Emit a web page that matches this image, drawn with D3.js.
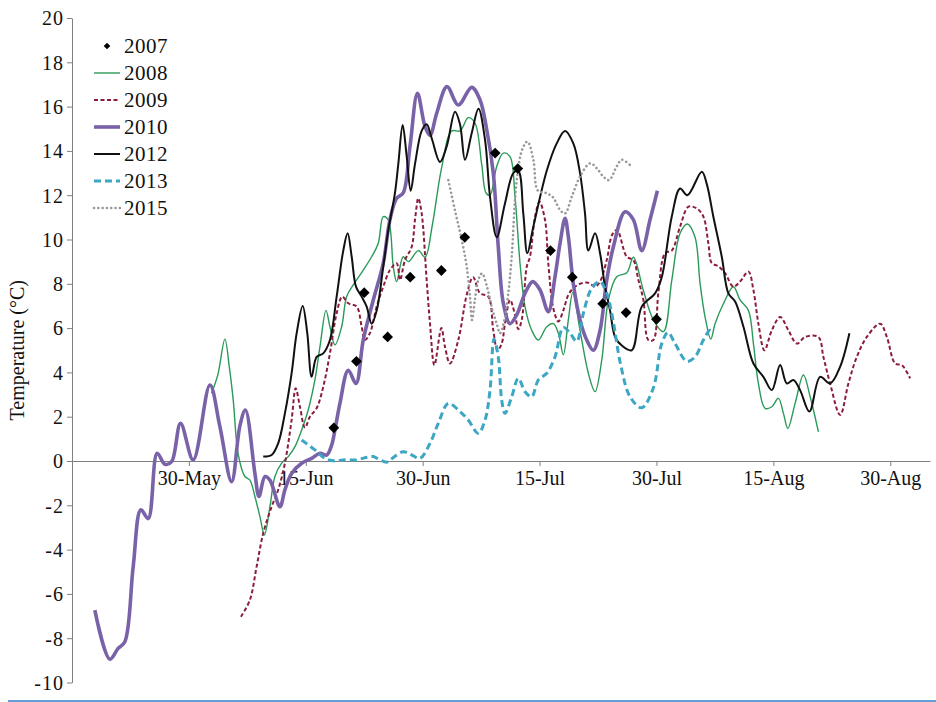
<!DOCTYPE html>
<html>
<head>
<meta charset="utf-8">
<script src="https://cdn.jsdelivr.net/npm/d3@7"></script>
<style>
  html, body { margin: 0; padding: 0; background: #fff; }
  svg text { font-family: "Liberation Serif", "DejaVu Serif", serif; fill: #111; }
</style>
</head>
<body>
<svg id="chart" width="936" height="702"></svg>
<script>
// ---- DATA (x = days relative to the 30-May tick, tick spacing 15 days) ----
const xTickValues = [0, 15, 30, 45, 60, 75, 90];
const xTickLabels = ["30-May", "15-Jun", "30-Jun", "15-Jul", "30-Jul", "15-Aug", "30-Aug"];
const yTickValues = [-10, -8, -6, -4, -2, 0, 2, 4, 6, 8, 10, 12, 14, 16, 18, 20];
const seriesNames = ["2007", "2008", "2009", "2010", "2012", "2013", "2015"];

const s2007 = [[18.6,1.5],[21.5,4.5],[22.5,7.6],[25.5,5.6],[28.4,8.3],[32.4,8.6],[35.4,10.1],
  [39.3,13.9],[42.2,13.2],[46.4,9.5],[49.2,8.3],[53.1,7.1],[56.1,6.7],[60.0,6.4]];

const s2008 = [[2.91,3.06],[3.72,3.9],[4.62,5.5],[5.2,4.2],[5.69,2.75],[6.33,0.3],[7.19,-0.7],[7.83,-0.86],
  [8.47,-1.6],[9.11,-2.5],[9.69,-3.34],[10.4,-2.06],[11.04,-0.7],[11.9,-0.1],[12.75,0.2],[13.61,0.65],
  [14.47,1.4],[15.31,2.3],[16.17,3.66],[16.82,5.16],[17.59,6.8],[18.1,6.06],[18.74,5.24],[19.6,6.06],
  [20.24,7.42],[21.09,7.95],[22.38,8.62],[23.45,9.22],[24.3,9.83],[24.94,11.03],[25.58,10.88],
  [26.23,8.77],[26.66,8.1],[27.5,9.22],[28.15,9.0],[29.44,9.5],[30.3,9.2],[31.26,10.7],[32.41,13.2],
  [33.72,14.9],[34.79,14.9],[35.85,15.5],[36.71,15.26],[37.57,13.4],[38.13,12.1],[38.64,12.0],
  [39.5,13.3],[40.35,13.9],[41.2,13.74],[41.85,11.93],[42.49,8.93],[43.13,6.97],[43.99,5.9],
  [44.84,5.46],[45.92,6.06],[46.77,6.2],[47.41,5.77],[48.05,4.8],[48.69,6.37],[49.26,7.6],[50.19,5.9],
  [51.26,3.96],[52.12,3.13],[52.98,4.56],[53.83,7.27],[54.9,8.32],[56.19,8.5],[57.04,9.2],[58.32,7.7],
  [59.6,6.37],[60.89,5.84],[61.97,8.17],[63.03,10.28],[63.97,10.7],[64.95,10.1],[65.6,8.0],[66.24,6.5],
  [66.97,5.5],[67.52,6.2],[68.59,7.1],[69.87,7.87],[70.73,7.27],[71.8,6.8],[72.44,5.3],[73.08,3.5],
  [73.94,2.38],[74.8,2.45],[75.65,2.83],[76.29,2.15],[76.86,1.47],[77.79,2.6],[78.86,3.88],[79.72,2.9],
  [80.78,1.32]];

const s2009 = [[6.68,-7.03],[7.83,-6.27],[8.69,-4.77],[9.54,-3.26],[10.62,-2.06],[11.46,-1.3],[12.32,-0.1],
  [13.18,1.85],[13.7,3.28],[14.25,2.45],[14.89,1.5],[15.53,2.0],[16.39,2.38],[17.24,3.35],[18.1,4.86],
  [18.96,6.67],[19.68,7.42],[20.45,7.12],[21.53,6.97],[22.17,6.06],[22.59,5.46],[23.23,5.77],[24.1,6.97],
  [24.94,7.87],[25.8,8.62],[26.66,8.93],[27.09,8.17],[27.73,9.07],[28.59,9.67],[29.01,10.88],
  [29.44,11.86],[29.87,11.18],[30.51,8.17],[30.94,6.2],[31.5,4.33],[32.4,6.0],[32.86,5.16],[33.5,4.4],
  [34.57,5.46],[35.65,7.5],[36.46,8.3],[37.36,7.57],[38.42,7.42],[39.06,5.9],[39.6,5.0],[40.14,5.3],
  [40.56,6.2],[41.21,7.27],[41.85,6.6],[42.27,5.95],[42.71,6.37],[43.35,8.77],[43.77,9.22],[44.42,11.03],
  [44.99,11.7],[45.7,10.88],[46.12,8.93],[46.76,6.9],[47.41,6.3],[48.05,6.8],[48.69,7.5],[49.33,7.8],
  [50.19,8.0],[51.22,8.05],[52.12,7.87],[52.76,8.1],[53.62,9.07],[54.3,10.2],[54.94,10.43],[56.19,9.22],
  [57.04,9.07],[57.68,8.17],[58.32,7.27],[58.96,5.46],[59.6,5.46],[60.24,7.57],[61.1,9.38],[61.96,9.5],
  [63.03,10.58],[64.1,11.48],[65.17,11.4],[66.02,11.03],[66.66,9.83],[67.1,8.93],[67.9,8.8],[68.81,8.47],
  [69.87,7.87],[70.73,8.1],[71.8,8.55],[72.44,7.72],[73.08,6.2],[73.85,5.0],[74.8,5.9],[75.87,6.5],
  [76.93,5.9],[78.01,5.3],[79.08,5.6],[80.78,5.6],[81.42,4.7],[82.28,3.5],[83.57,2.08],[84.63,3.5],
  [85.71,4.7],[86.99,5.6],[88.7,6.2],[89.56,5.6],[90.63,4.4],[91.49,4.33],[92.55,3.73]];

const s2010 = [[-12.07,-6.73],[-10.14,-8.95],[-9.08,-8.46],[-8.22,-8.16],[-7.15,-4.77],[-6.16,-2.2],
  [-5.22,-2.6],[-4.07,0.35],[-3.08,-0.15],[-2.22,-0.03],[-1.07,1.7],[0.55,0.05],[2.7,3.43],[3.98,1.55],
  [5.48,-0.93],[6.55,1.6],[7.25,2.3],[8.47,-0.56],[8.99,-1.6],[9.76,-0.7],[10.4,-0.86],[11.68,-2.06],
  [12.32,-1.3],[13.18,-0.56],[14.47,-0.1],[15.75,0.12],[16.82,0.35],[17.68,0.27],[18.32,0.72],
  [18.74,1.4],[19.38,2.6],[20.45,4.1],[21.44,3.5],[22.37,5.46],[23.66,7.27],[24.94,8.93],[25.8,10.9],
  [26.66,11.86],[27.5,12.1],[28.37,14.2],[29.33,16.6],[30.3,15.1],[30.94,14.7],[31.8,15.7],[33.12,16.9],
  [34.57,16.07],[36.29,16.87],[37.36,16.3],[38.2,15.0],[39.06,13.0],[39.7,9.67],[40.35,7.12],[41.2,6.2],
  [42.07,6.6],[43.13,7.57],[44.12,8.1],[45.06,7.72],[46.12,6.74],[46.98,8.32],[47.63,9.83],[48.27,10.96],
  [48.7,10.1],[49.33,8.0],[50.19,6.37],[51.05,5.46],[51.9,5.0],[52.76,5.9],[53.62,8.17],[54.47,9.67],
  [55.97,11.25],[57.03,10.9],[58.11,9.5],[59.18,10.9],[60.12,12.2]];

const s2012 = [[9.54,0.2],[10.62,0.27],[11.46,0.8],[12.32,2.15],[13.18,3.96],[13.83,5.77],[14.6,7.0],
  [15.19,5.77],[15.75,3.8],[16.39,4.7],[17.24,4.86],[18.1,5.46],[18.96,7.42],[19.81,9.5],[20.37,10.28],
  [20.89,9.22],[21.44,7.87],[22.17,7.42],[22.81,6.97],[23.45,6.2],[24.1,6.8],[24.94,8.77],[25.58,10.4],
  [26.44,12.09],[26.87,13.4],[27.43,15.17],[27.95,13.74],[28.46,12.2],[29.01,13.4],[29.87,14.9],
  [30.51,15.2],[31.16,14.57],[32.22,13.5],[33.08,14.2],[34.15,15.77],[34.79,15.2],[35.43,13.6],
  [36.29,14.8],[37.16,15.9],[38.0,14.5],[38.64,11.93],[39.5,10.1],[40.56,11.63],[41.63,13.0],
  [42.27,13.1],[42.91,11.18],[43.43,9.38],[44.2,10.58],[45.92,13.1],[47.2,14.34],[48.27,14.9],
  [49.33,14.34],[50.19,13.0],[50.83,11.18],[51.26,9.5],[52.12,10.28],[52.76,9.38],[53.4,7.87],
  [54.04,6.8],[54.69,5.6],[55.59,5.2],[56.83,5.0],[58.11,6.97],[59.82,7.57],[60.68,8.3],[61.96,11.03],
  [63.03,12.3],[63.97,12.0],[65.82,13.06],[66.46,12.5],[67.3,11.03],[68.38,9.22],[69.23,7.57],
  [70.09,7.2],[71.16,6.06],[72.44,4.4],[73.72,3.8],[74.8,3.2],[75.87,4.33],[76.73,3.5],[77.57,3.66],
  [78.43,3.2],[79.63,2.23],[81.0,3.8],[82.28,3.5],[83.57,4.26],[84.76,5.77]];

const s2013 = [[14.47,0.95],[16.17,0.5],[17.46,0.12],[18.74,0.0],[19.81,0.05],[21.53,0.05],[22.6,0.15],
  [23.66,0.2],[24.52,0.05],[25.38,-0.05],[26.19,0.15],[27.5,0.42],[28.59,0.27],[29.65,0.12],[30.94,0.8],
  [32.0,1.7],[33.29,2.6],[34.79,2.23],[35.85,1.85],[37.14,1.25],[38.0,1.85],[38.64,3.2],[39.15,5.5],
  [39.7,4.7],[40.14,2.75],[40.56,2.15],[41.42,2.9],[42.27,3.73],[43.13,3.13],[43.99,2.9],[44.84,3.66],
  [45.92,3.96],[46.98,4.7],[48.05,6.03],[48.91,5.77],[49.77,5.4],[50.62,6.67],[51.69,7.8],[52.76,8.1],
  [53.62,7.57],[54.35,6.5],[55.43,4.3],[56.61,2.9],[58.11,2.4],[59.6,3.3],[60.68,5.3],[61.49,5.8],
  [62.39,5.3],[63.89,4.5],[64.95,4.7],[66.02,5.46],[66.88,5.9],[67.3,5.77]];

const s2015 = [[33.29,12.68],[34.15,11.3],[35.0,10.0],[35.65,8.77],[36.07,7.42],[36.33,6.37],[36.71,7.3],
  [37.14,8.17],[37.61,8.47],[38.25,7.87],[38.96,6.8],[39.5,6.2],[39.92,5.77],[40.44,6.3],[40.96,7.5],
  [41.42,9.22],[42.07,12.68],[42.81,14.1],[43.45,14.42],[44.2,13.6],[44.8,12.2],[45.92,12.09],
  [46.73,11.9],[47.63,11.33],[48.27,11.18],[49.13,11.93],[50.19,12.84],[51.48,13.44],[52.38,13.2],
  [53.18,12.84],[53.92,12.68],[54.9,13.3],[55.55,13.6],[56.61,13.36]];

// ---- STYLES ----
const styles = {
  "2008": { color: "#2a9a58", width: 1.4, dash: null },
  "2009": { color: "#8c1c3c", width: 2, dash: "4,2.5" },
  "2010": { color: "#7a62a8", width: 3.6, dash: null },
  "2012": { color: "#111111", width: 2, dash: null },
  "2013": { color: "#3ca6c4", width: 3, dash: "7,4" },
  "2015": { color: "#9a9a9a", width: 2.6, dash: "0.1,4.2", cap: "round" }
};
const serif = '"Liberation Serif", "DejaVu Serif", serif';

const svg = d3.select("#chart");
const x = d3.scaleLinear().domain([-15, 95.1]).range([72, 930]);
const y = d3.scaleLinear().domain([-10, 20]).range([682.5, 18]);

// y axis
const yAxis = d3.axisLeft(y).tickValues(yTickValues).tickFormat(d => String(d)).tickSize(5).tickSizeOuter(0);
const gy = svg.append("g").attr("transform", "translate(72,0)").call(yAxis);
gy.attr("font-family", serif);
gy.select(".domain").attr("stroke", "#808080");
gy.selectAll(".tick line").attr("stroke", "#808080");
gy.selectAll(".tick text").attr("font-size", 20).attr("x", -8).attr("dy", "0.34em")
  .attr("letter-spacing", 1).style("font-family", serif);

// x axis at y = 0
const xAxis = d3.axisBottom(x).tickValues(xTickValues)
  .tickFormat((d, i) => xTickLabels[i]).tickSize(5).tickSizeOuter(0);
const gx = svg.append("g").attr("transform", `translate(0,${y(0)})`).call(xAxis);
gx.attr("font-family", serif);
gx.select(".domain").attr("stroke", "#808080");
gx.selectAll(".tick line").attr("stroke", "#808080");
gx.selectAll(".tick text").attr("font-size", 20).attr("y", 10).attr("dy", "0.71em")
  .style("font-family", serif);

// axis title
svg.append("text")
  .attr("transform", `translate(24,${y(5)}) rotate(-90)`)
  .attr("text-anchor", "middle")
  .attr("font-size", 20)
  .style("font-family", serif)
  .text("Temperature (°C)");

// lines
const line = d3.line().x(d => x(d[0])).y(d => y(d[1])).curve(d3.curveCatmullRom.alpha(0.5));
const lineSeries = [["2008", s2008], ["2009", s2009], ["2010", s2010], ["2012", s2012], ["2013", s2013], ["2015", s2015]];
lineSeries.forEach(([name, data]) => {
  const st = styles[name];
  svg.append("path").datum(data)
    .attr("d", line)
    .attr("fill", "none")
    .attr("stroke", st.color)
    .attr("stroke-width", st.width)
    .attr("stroke-dasharray", st.dash)
    .attr("stroke-linecap", st.cap || "butt")
    .attr("stroke-linejoin", "round");
});

// 2007 diamonds
const diamond = d3.symbol().type(d3.symbolSquare).size(58);
svg.append("g").selectAll("path").data(s2007).join("path")
  .attr("d", diamond)
  .attr("transform", d => `translate(${x(d[0])},${y(d[1])}) rotate(45)`)
  .attr("fill", "#000");

// legend
const legend = svg.append("g");
seriesNames.forEach((name, i) => {
  const yy = 46 + i * 27;
  if (name === "2007") {
    legend.append("path").attr("d", d3.symbol().type(d3.symbolSquare).size(22))
      .attr("transform", `translate(107,${yy}) rotate(45)`).attr("fill", "#000");
  } else {
    const st = styles[name];
    legend.append("line").attr("x1", 94).attr("x2", 120).attr("y1", yy).attr("y2", yy)
      .attr("stroke", st.color).attr("stroke-width", st.width)
      .attr("stroke-dasharray", st.dash).attr("stroke-linecap", st.cap || "butt");
  }
  legend.append("text").attr("x", 124).attr("y", yy).attr("dy", "0.35em")
    .attr("font-size", 21).attr("letter-spacing", 0.5).style("font-family", serif).text(name);
});

// bottom border line
svg.append("line").attr("x1", 8).attr("x2", 936).attr("y1", 701).attr("y2", 701)
  .attr("stroke", "#2f7fc8").attr("stroke-width", 1.5);
</script>
</body>
</html>
